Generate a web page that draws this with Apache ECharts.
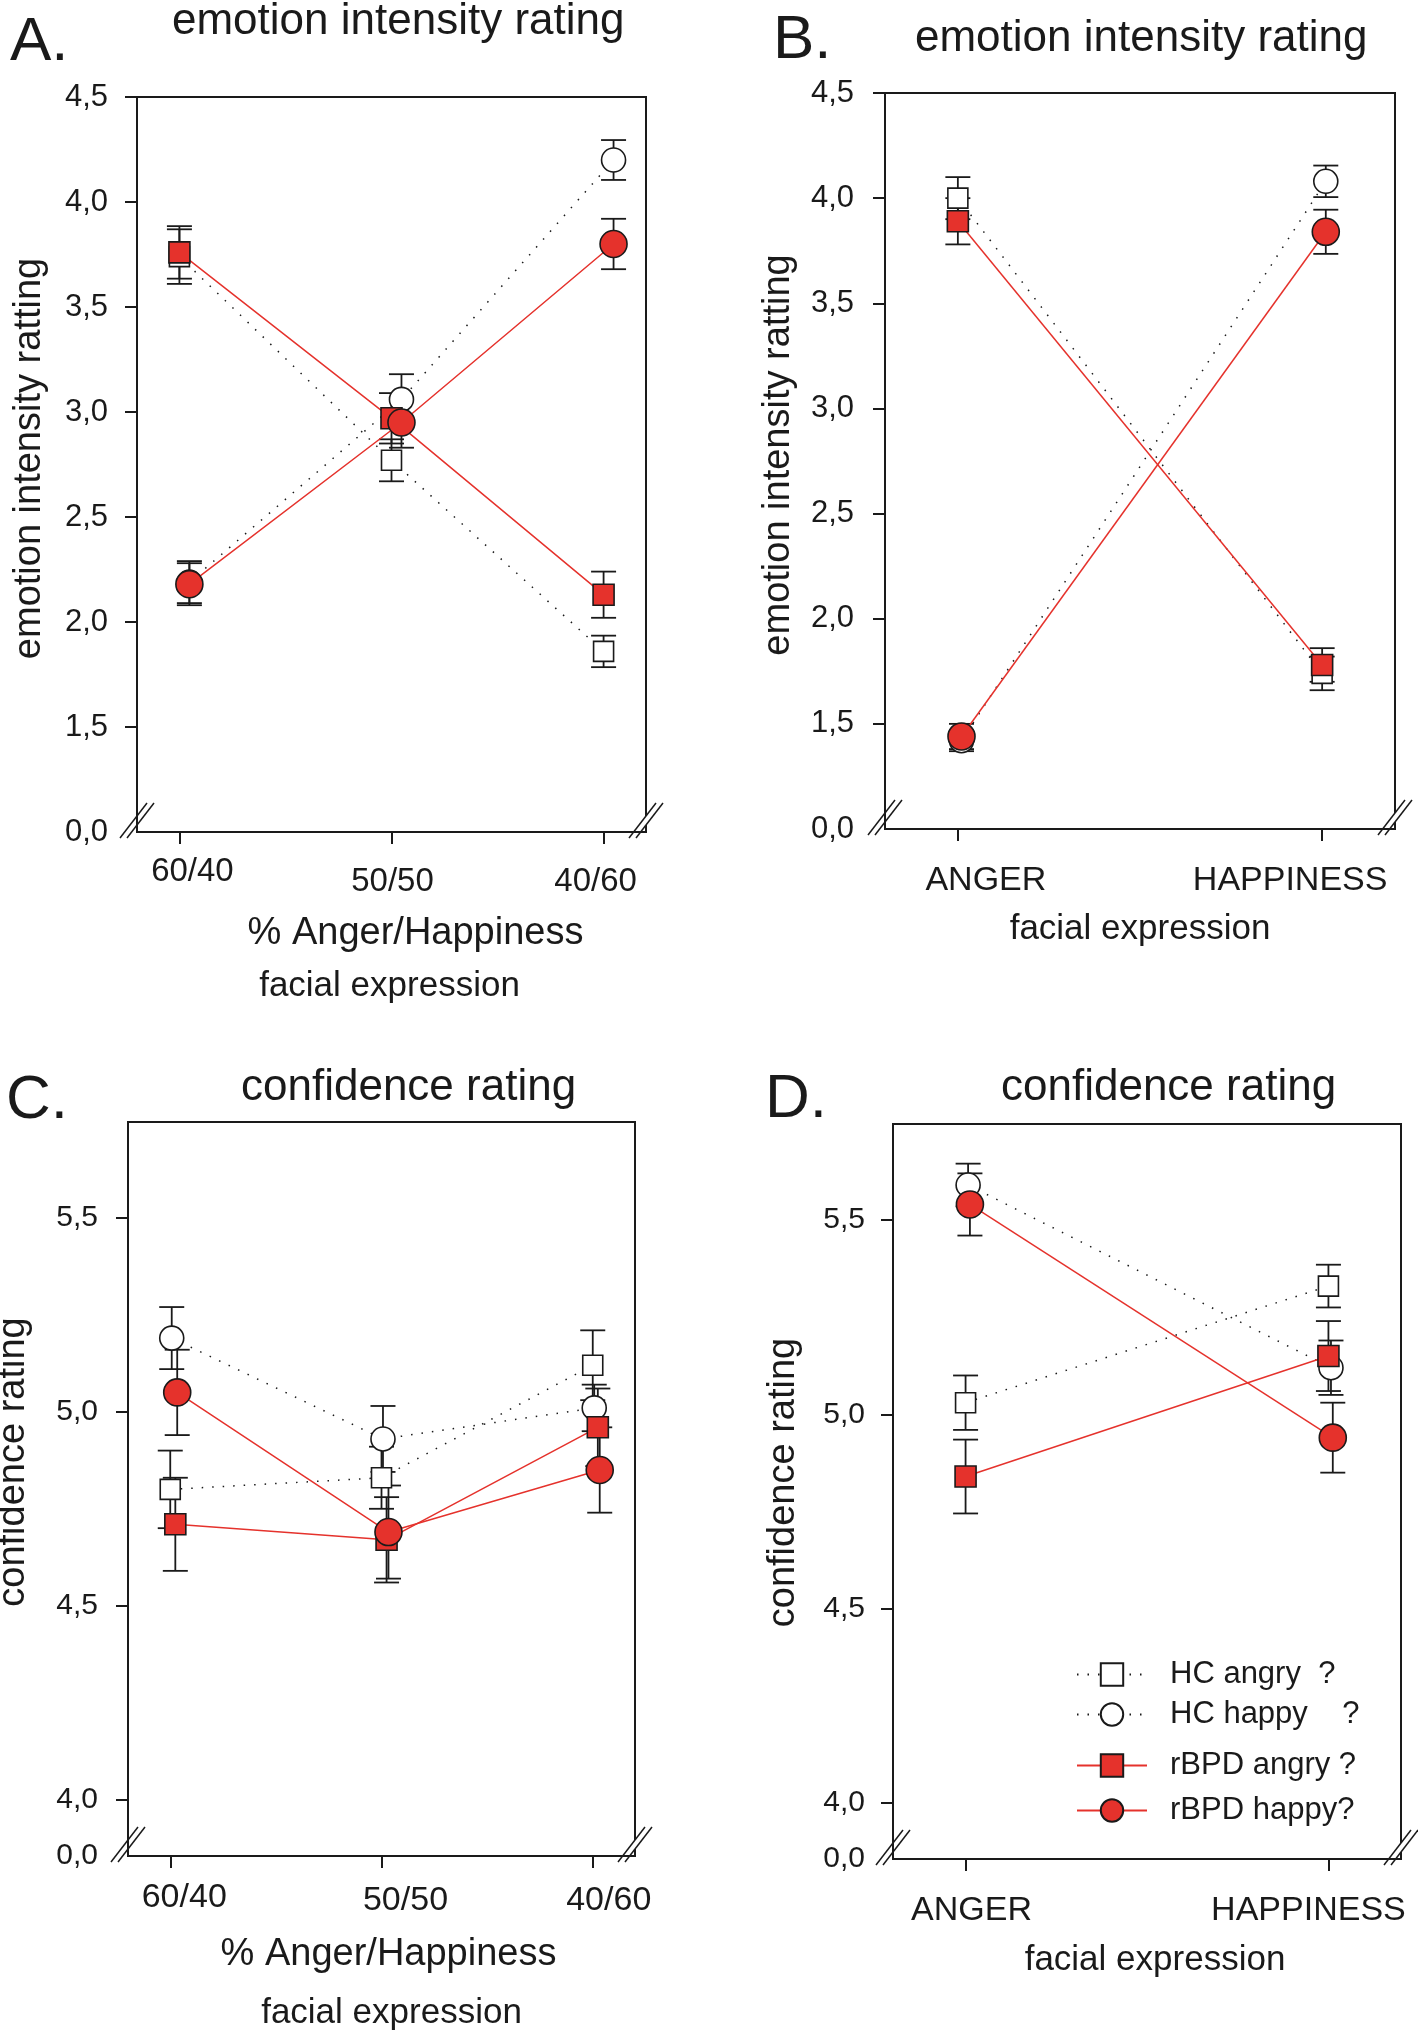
<!DOCTYPE html>
<html><head><meta charset="utf-8">
<script src="https://cdn.jsdelivr.net/npm/echarts@6/dist/echarts.min.js"></script>
<style>html,body{margin:0;padding:0;background:#fff}#c{width:1418px;height:2031px}</style>
</head><body><div id="c"></div>
<script>
// ================= DATA =================
const CATS_MIX = ['60/40', '50/50', '40/60'];
const CATS_EXPR = ['ANGER', 'HAPPINESS'];
const X_MIX = [0, 1, 2];
const X_EXPR = [0, 1];
const GROUP_NAMES = ['HC angry  ?', 'HC happy    ?', 'rBPD angry ?', 'rBPD happy?'];

// Panel A: emotion intensity, morphed faces
const A_hcAngry = [3.74, 2.77, 1.86];
const A_hcAngrySE = [0.13, 0.10, 0.075];
const A_hcHappy = [2.19, 3.06, 4.20];
const A_hcHappySE = [0.10, 0.12, 0.095];
const A_bpdAngry = [3.76, 2.97, 2.13];
const A_bpdAngrySE = [0.125, 0.12, 0.11];
const A_bpdHappy = [2.18, 2.95, 3.80];
const A_bpdHappySE = [0.10, 0.12, 0.12];

// Panel B: emotion intensity, full expressions
const B_hcAngry = [4.00, 1.74];
const B_hcAngrySE = [0.10, 0.08];
const B_hcHappy = [1.42, 4.08];
const B_hcHappySE = [0.05, 0.075];
const B_bpdAngry = [3.89, 1.78];
const B_bpdAngrySE = [0.11, 0.08];
const B_bpdHappy = [1.44, 3.84];
const B_bpdHappySE = [0.06, 0.105];

// Panel C: confidence, morphed faces
const C_hcAngry = [4.80, 4.83, 5.12];
const C_hcAngrySE = [0.10, 0.08, 0.09];
const C_hcHappy = [5.19, 4.93, 5.01];
const C_hcHappySE = [0.08, 0.085, 0.06];
const C_bpdAngry = [4.71, 4.67, 4.96];
const C_bpdAngrySE = [0.12, 0.11, 0.10];
const C_bpdHappy = [5.05, 4.69, 4.85];
const C_bpdHappySE = [0.11, 0.12, 0.11];

// Panel D: confidence, full expressions
const D_hcAngry = [5.03, 5.33];
const D_hcAngrySE = [0.07, 0.055];
const D_hcHappy = [5.59, 5.12];
const D_hcHappySE = [0.055, 0.07];
const D_bpdAngry = [4.84, 5.15];
const D_bpdAngrySE = [0.095, 0.09];
const D_bpdHappy = [5.54, 4.94];
const D_bpdHappySE = [0.08, 0.09];

// small horizontal jitter of the groups (in category units)
const A_jitter = [0, 0.047, 0, 0.047];
const B_jitter = [0, 0.01, 0, 0.01];
const C_jitter = [0, 0.007, 0.024, 0.033];
const D_jitter = [0, 0.007, 0, 0.012];

// tick labels
const AB_yTicks = [1.5, 2.0, 2.5, 3.0, 3.5, 4.0, 4.5];
const CD_yTicks = [4.0, 4.5, 5.0, 5.5];
const BREAK_LABEL = '0,0';

// ================= STYLE / LAYOUT =================
const FONT = "'Liberation Sans', Arial, Helvetica, sans-serif";
const INK = '#1a1a1a';
const RED = '#e5322c';
const DOTS = [1.5, 9];
const GROUP_STYLE = [
  {symbol: 'rect', size: 20, fill: '#ffffff', line: {color: INK, width: 1.5, type: DOTS}},
  {symbol: 'circle', size: 24, fill: '#ffffff', line: {color: INK, width: 1.5, type: DOTS}},
  {symbol: 'rect', size: 21, fill: RED, line: {color: RED, width: 1.5, type: 'solid'}},
  {symbol: 'circle', size: 27, fill: RED, line: {color: RED, width: 1.5, type: 'solid'}}
];

const panels = [
  { letter: 'A.', letterPos: [10, 12], title: 'emotion intensity rating', titlePos: [172, 0],
    grid: {left: 137, top: 97, width: 509, height: 735},
    x: X_MIX, cats: CATS_MIX, xMin: -0.2, xMax: 2.2,
    lab: {size: 33, margin: 23, shift: [13, 1, -8], drop: [0, 10, 10]},
    xName: [{t: '% Anger/Happiness', size: 38, lh: 52, shift: 24}, {t: 'facial expression', size: 35, lh: 52, shift: -2}], xGap: 76,
    yMin: 1.0, yMax: 4.5, yTicks: AB_yTicks, yLabSize: 31, yMargin: 29,
    yName: 'emotion intensity ratting', yGap: 88, yUp: 6,
    groups: [[A_hcAngry, A_hcAngrySE], [A_hcHappy, A_hcHappySE], [A_bpdAngry, A_bpdAngrySE], [A_bpdHappy, A_bpdHappySE]],
    jitter: A_jitter },
  { letter: 'B.', letterPos: [773, 10], title: 'emotion intensity rating', titlePos: [915, 17],
    grid: {left: 885, top: 93, width: 510, height: 736},
    x: X_EXPR, cats: CATS_EXPR, xMin: -0.2, xMax: 1.2,
    lab: {size: 34, margin: 35, shift: [28, -32], drop: [0, 0]},
    xName: [{t: 'facial expression', size: 35, lh: 35, shift: 0}], xGap: 83,
    yMin: 1.0, yMax: 4.5, yTicks: AB_yTicks, yLabSize: 31, yMargin: 31,
    yName: 'emotion intensity ratting', yGap: 87, yUp: 6,
    groups: [[B_hcAngry, B_hcAngrySE], [B_hcHappy, B_hcHappySE], [B_bpdAngry, B_bpdAngrySE], [B_bpdHappy, B_bpdHappySE]],
    jitter: B_jitter },
  { letter: 'C.', letterPos: [6, 1070], title: 'confidence rating', titlePos: [241, 1066],
    grid: {left: 128, top: 1122, width: 507, height: 734},
    x: X_MIX, cats: CATS_MIX, xMin: -0.2, xMax: 2.2,
    lab: {size: 34, margin: 25, shift: [14, 24, 16], drop: [0, 3, 3]},
    xName: [{t: '% Anger/Happiness', size: 38, lh: 58, shift: 7}, {t: 'facial expression', size: 35, lh: 58, shift: 10}], xGap: 70,
    yMin: 3.855, yMax: 5.747, yTicks: CD_yTicks, yLabSize: 30, yMargin: 30,
    yName: 'confidence rating', yGap: 95, yUp: 27,
    groups: [[C_hcAngry, C_hcAngrySE], [C_hcHappy, C_hcHappySE], [C_bpdAngry, C_bpdAngrySE], [C_bpdHappy, C_bpdHappySE]],
    jitter: C_jitter },
  { letter: 'D.', letterPos: [765, 1069], title: 'confidence rating', titlePos: [1001, 1066],
    grid: {left: 893, top: 1124, width: 508, height: 735},
    x: X_EXPR, cats: CATS_EXPR, xMin: -0.2, xMax: 1.2,
    lab: {size: 34, margin: 35, shift: [6, -20], drop: [0, 0]},
    xName: [{t: 'facial expression', size: 35, lh: 35, shift: 8}], xGap: 84,
    yMin: 3.856, yMax: 5.747, yTicks: CD_yTicks, yLabSize: 30, yMargin: 28,
    yName: 'confidence rating', yGap: 90, yUp: 9,
    groups: [[D_hcAngry, D_hcAngrySE], [D_hcHappy, D_hcHappySE], [D_bpdAngry, D_bpdAngrySE], [D_bpdHappy, D_bpdHappySE]],
    jitter: D_jitter }
];

// legend rows (panel D): vertical centre of each row
const LEGEND_ROWS = [1673, 1713, 1764, 1809];

function padFor(shift, drop) {
  return [drop || 0, shift < 0 ? -2 * shift : 0, 0, shift > 0 ? 2 * shift : 0];
}

function errRender(params, api) {
  const x = api.value(0), y = api.value(1), e = api.value(2);
  const p1 = api.coord([x, y + e]);
  const p2 = api.coord([x, y - e]);
  const hw = 12.5;
  const st = {stroke: INK, lineWidth: 1.8};
  return {type: 'group', children: [
    {type: 'line', shape: {x1: p1[0], y1: p1[1], x2: p2[0], y2: p2[1]}, style: st},
    {type: 'line', shape: {x1: p1[0] - hw, y1: p1[1], x2: p1[0] + hw, y2: p1[1]}, style: st},
    {type: 'line', shape: {x1: p2[0] - hw, y1: p2[1], x2: p2[0] + hw, y2: p2[1]}, style: st}
  ]};
}

function breakMark(x, y) {
  const a1 = [x - 17, y + 6], b1 = [x + 10, y - 29];
  const a2 = [x - 10, y + 6], b2 = [x + 17, y - 29];
  const st = {stroke: INK, lineWidth: 1.5};
  return {type: 'group', z: 100, children: [
    {type: 'polygon', shape: {points: [a1, b1, b2, a2]}, style: {fill: '#ffffff', stroke: null}},
    {type: 'line', shape: {x1: a1[0], y1: a1[1], x2: b1[0], y2: b1[1]}, style: st},
    {type: 'line', shape: {x1: a2[0], y1: a2[1], x2: b2[0], y2: b2[1]}, style: st}
  ]};
}

const option = {
  animation: false,
  backgroundColor: '#ffffff',
  textStyle: {fontFamily: FONT, color: INK},
  title: [], grid: [], xAxis: [], yAxis: [], series: [], legend: [],
  graphic: {elements: []}
};

panels.forEach((p, i) => {
  option.title.push({text: p.letter, left: p.letterPos[0], top: p.letterPos[1], padding: 0,
    textStyle: {fontSize: 62, fontWeight: 'normal', fontFamily: FONT, color: INK}});
  option.title.push({text: p.title, left: p.titlePos[0], top: p.titlePos[1], padding: 0,
    textStyle: {fontSize: 44, fontWeight: 'normal', fontFamily: FONT, color: INK}});

  option.grid.push(Object.assign({show: true, borderColor: INK, borderWidth: 2,
    backgroundColor: 'transparent', containLabel: false, outerBoundsMode: 'none'}, p.grid));

  const labRich = {};
  p.cats.forEach((c, k) => {
    labRich['t' + k] = {fontSize: p.lab.size, fontFamily: FONT, color: INK,
      padding: padFor(p.lab.shift[k], p.lab.drop[k])};
  });
  const nameRich = {};
  p.xName.forEach((n, k) => {
    nameRich['n' + k] = {fontSize: n.size, lineHeight: n.lh, fontFamily: FONT, color: INK,
      padding: padFor(n.shift, 0)};
  });
  option.xAxis.push({
    type: 'value', gridIndex: i, min: p.xMin, max: p.xMax,
    axisLine: {show: true, onZero: false, lineStyle: {color: INK, width: 2}},
    axisTick: {show: true, inside: false, length: 12, customValues: p.x, lineStyle: {color: INK, width: 2}},
    axisLabel: {show: true, customValues: p.x, margin: p.lab.margin, hideOverlap: false,
      formatter: v => { const k = Math.round(v); return '{t' + k + '|' + p.cats[k] + '}'; },
      rich: labRich},
    splitLine: {show: false},
    name: p.xName.map((n, k) => '{n' + k + '|' + n.t + '}').join('\n'),
    nameLocation: 'middle', nameGap: p.xGap,
    nameTextStyle: {rich: nameRich, fontFamily: FONT, color: INK}
  });

  option.yAxis.push({
    type: 'value', gridIndex: i, min: p.yMin, max: p.yMax,
    axisLine: {show: true, onZero: false, lineStyle: {color: INK, width: 2}},
    axisTick: {show: true, inside: false, length: 12, customValues: p.yTicks, lineStyle: {color: INK, width: 2}},
    axisLabel: {show: true, customValues: [p.yMin].concat(p.yTicks), margin: p.yMargin, hideOverlap: false,
      fontSize: p.yLabSize, fontFamily: FONT, color: INK,
      formatter: v => (v < p.yTicks[0] - 1e-6 ? BREAK_LABEL : v.toFixed(1).replace('.', ','))},
    splitLine: {show: false},
    name: p.yName, nameLocation: 'middle', nameRotate: 90, nameGap: p.yGap,
    nameTextStyle: {fontSize: 38, fontFamily: FONT, color: INK, padding: [0, 0, 0, 2 * p.yUp]}
  });

  // error bars first (below markers)
  p.groups.forEach((g, k) => {
    option.series.push({
      type: 'custom', name: GROUP_NAMES[k] + ' SE', xAxisIndex: i, yAxisIndex: i, z: 1, clip: false,
      renderItem: errRender, dimensions: ['x', 'y', 'se'], encode: {x: 'x', y: 'y'},
      data: p.x.map((xv, j) => [xv + p.jitter[k], g[0][j], g[1][j]])
    });
  });
  p.groups.forEach((g, k) => {
    const s = GROUP_STYLE[k];
    option.series.push({
      type: 'line', name: GROUP_NAMES[k], xAxisIndex: i, yAxisIndex: i, z: 3 + k,
      symbol: s.symbol, symbolSize: s.size, showSymbol: true,
      itemStyle: {color: s.fill, borderColor: INK, borderWidth: 1.6, opacity: 1},
      lineStyle: {color: s.line.color, width: s.line.width, type: s.line.type},
      emphasis: {disabled: true},
      data: p.x.map((xv, j) => [xv + p.jitter[k], g[0][j]])
    });
  });

  const L = p.grid.left, R = p.grid.left + p.grid.width, B = p.grid.top + p.grid.height;
  option.graphic.elements.push(breakMark(L, B), breakMark(R, B));
});

GROUP_NAMES.forEach((name, k) => {
  option.legend.push({
    data: [name], left: 1076, top: LEGEND_ROWS[k] - 14, padding: 0, orient: 'horizontal',
    itemWidth: 70, itemHeight: 28, selectedMode: false,
    textStyle: {fontSize: 31, fontFamily: FONT, color: INK, padding: [0, 0, 0, 18]}
  });
});

const chart = echarts.init(document.getElementById('c'), null, {renderer: 'canvas'});
chart.setOption(option);
</script>
</body></html>
